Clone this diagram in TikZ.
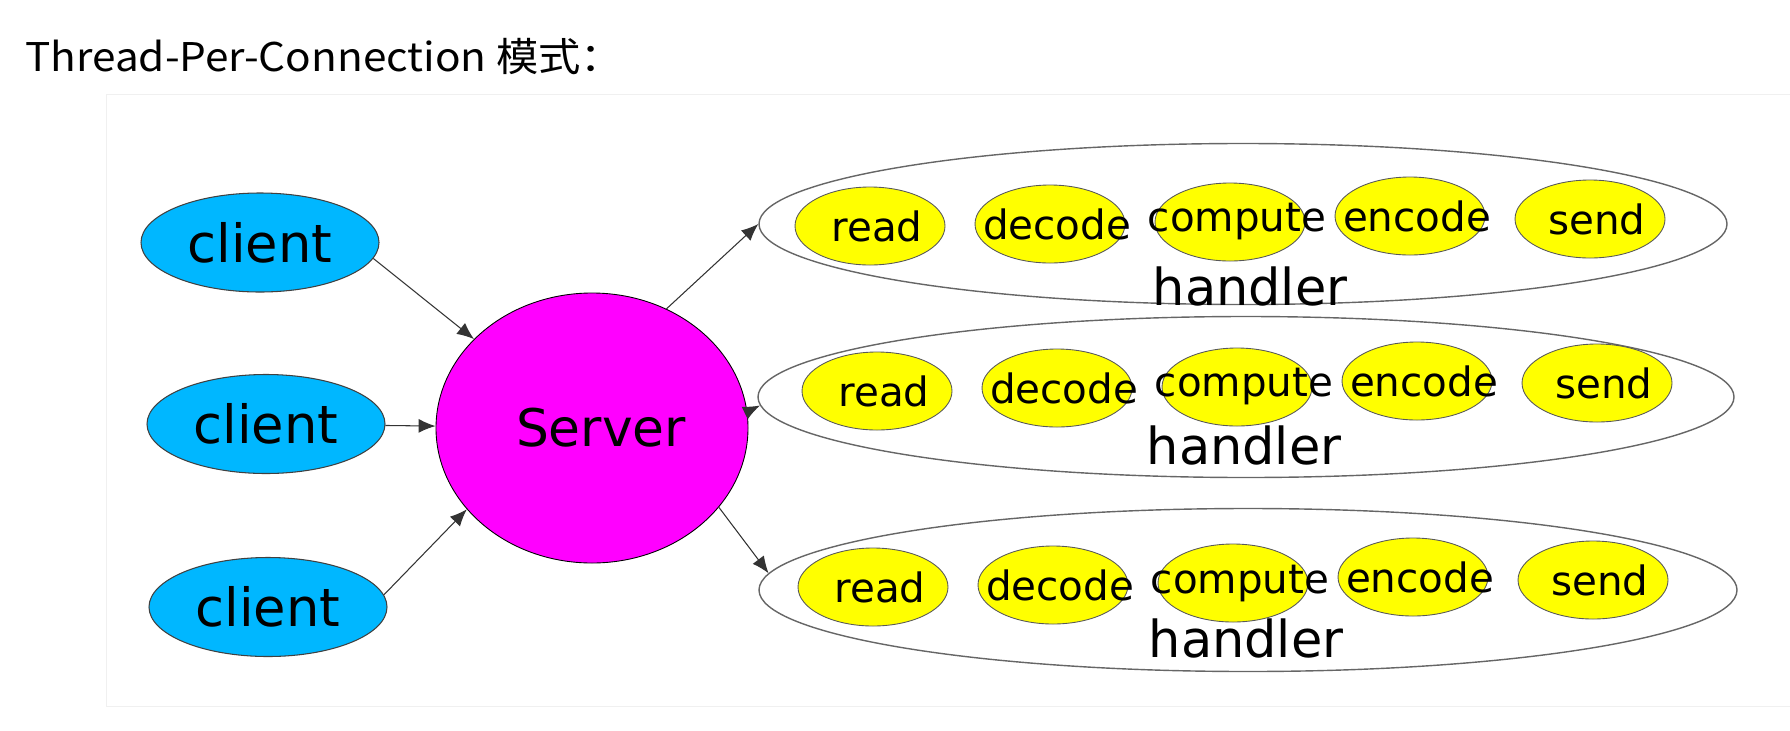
\documentclass[tikz,border=0pt]{standalone}
\usepackage{fontspec}
\usepackage{tikz}
\usetikzlibrary{shapes}
\usetikzlibrary{arrows.meta}
\newfontfamily\diagfont{DejaVu Sans}
\newfontfamily\titlefont[FakeStretch=1.07]{Noto Sans CJK SC}
\definecolor{clientblue}{RGB}{0,183,255}
\definecolor{servermagenta}{RGB}{255,0,255}
\definecolor{stageyellow}{RGB}{255,255,0}
\tikzstyle{client} = [ellipse, minimum width=4.76cm, minimum height=1.98cm, inner sep=0pt, text centered, draw=black!75, line width=0.6pt, fill=clientblue, font=\diagfont\fontsize{30}{36}\selectfont]
\tikzstyle{server} = [ellipse, minimum width=6.24cm, minimum height=5.4cm, inner sep=0pt, text centered, draw=black, line width=0.5pt, fill=servermagenta, font=\diagfont\fontsize{29.5}{35}\selectfont]
\tikzstyle{handler} = [ellipse, minimum width=19.5cm, minimum height=3.22cm, inner sep=0pt, draw=black!60, line width=0.8pt]
\tikzstyle{stage} = [ellipse, minimum width=3cm, minimum height=1.56cm, inner sep=0pt, draw=black!65, line width=0.5pt, fill=stageyellow, font=\diagfont\fontsize{23}{28}\selectfont,
execute at begin node={\hbox to 0pt\bgroup\hss\hskip0.28cm}, execute at end node={\hss\egroup}]
\tikzstyle{handlerlabel} = [anchor=base, inner sep=0pt, font=\diagfont\fontsize{29}{35}\selectfont]
\tikzstyle{arrow} = [line width=0.6pt, draw=black!80, -{Latex[length=0.34cm, width=0.28cm]}]

\begin{document}
\begin{tikzpicture}[node distance=3.6cm]

    \useasboundingbox (0,0) rectangle (35.8,-14.6);
    \draw[black!6] (2.12,-1.88) rectangle (36.2,-14.12);
    \node(title)[anchor=base west, inner sep=0pt, font=\titlefont\fontsize{22.5}{27}\selectfont] at (0.5,-1.42) {Thread-Per-Connection 模式：};

    \node(client1)[client] at (5.2,-4.85) {client};
    \node(client2)[client, below of=client1, xshift=0.12cm, yshift=-0.03cm] {client};
    \node(client3)[client, below of=client2, xshift=0.04cm, yshift=-0.06cm] {client};

    \node(server)[server] at (11.84,-8.56) {\hspace{0.36cm}Server};

    \node(handler1)[handler, minimum width=19.36cm] at (24.86,-4.48) {};
    \node(read1)[stage, left of=handler1, xshift=-3.86cm, yshift=-0.04cm] {read};
    \node(decode1)[stage, right of=read1, yshift=0.04cm] {decode};
    \node(compute1)[stage, right of=decode1, yshift=0.04cm] {compute};
    \node(encode1)[stage, right of=compute1, yshift=0.12cm] {encode};
    \node(send1)[stage, right of=encode1, yshift=-0.06cm] {send};
    \node(hlabel1)[handlerlabel, xshift=0.14cm] at (handler1.south) {handler};

    \node(handler2)[handler, minimum width=19.52cm] at (24.92,-7.94) {};
    \node(read2)[stage, left of=handler2, xshift=-3.78cm, yshift=0.12cm] {read};
    \node(decode2)[stage, right of=read2, yshift=0.06cm] {decode};
    \node(compute2)[stage, right of=decode2, yshift=0.02cm] {compute};
    \node(encode2)[stage, right of=compute2, yshift=0.12cm] {encode};
    \node(send2)[stage, right of=encode2, yshift=-0.04cm] {send};
    \node(hlabel2)[handlerlabel, xshift=-0.04cm, yshift=0.28cm] at (handler2.south) {handler};

    \node(handler3)[handler, minimum width=19.56cm, minimum height=3.26cm] at (24.96,-11.8) {};
    \node(read3)[stage, left of=handler3, xshift=-3.9cm, yshift=0.06cm] {read};
    \node(decode3)[stage, right of=read3, yshift=0.04cm] {decode};
    \node(compute3)[stage, right of=decode3, yshift=0.04cm] {compute};
    \node(encode3)[stage, right of=compute3, yshift=0.12cm] {encode};
    \node(send3)[stage, right of=encode3, yshift=-0.06cm] {send};
    \node(hlabel3)[handlerlabel, xshift=-0.04cm, yshift=0.3cm] at (handler3.south) {handler};

    \draw[arrow] (client1.-8) -- (server.143);
    \draw[arrow] (client2) -- (server);
    \draw[arrow] (client3.6) -- (server.213);
    \draw[arrow] (server.58) -- (handler1.west);
    \draw[arrow] (server.6) -- (handler2.181);
    \draw[arrow] (server.-32) -- (handler3.178);

\end{tikzpicture}
\end{document}
